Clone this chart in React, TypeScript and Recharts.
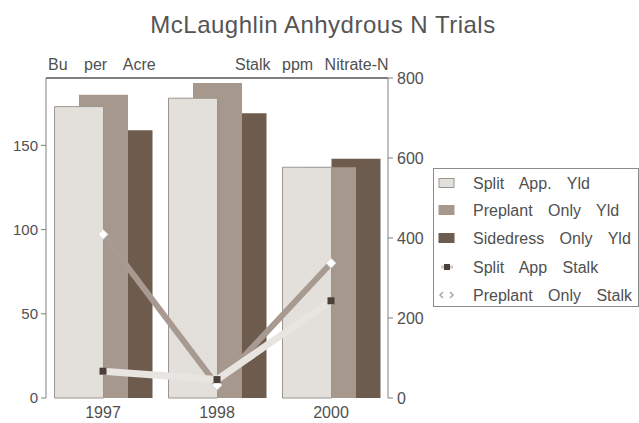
import React from "react";
import { ComposedChart, Bar, Line, XAxis, YAxis, ReferenceLine } from "recharts";

const years = ["1997", "1998", "2000"];
const splitYld = [173, 178, 137];
const preplantYld = [180, 187, 137];
const sidedressYld = [159, 169, 142];
const splitStalk = [67, 46, 243];
const preplantStalk = [409, 32, 337];

const leftTicks = [0, 50, 100, 150];
const rightTicks = [0, 200, 400, 600, 800];

const legendLabels = [
  "Split App. Yld",
  "Preplant Only Yld",
  "Sidedress Only Yld",
  "Split App Stalk",
  "Preplant Only Stalk",
];

const SPLIT = "#e3e0dc";
const PREPLANT = "#a6988d";
const SIDEDRESS = "#6d5c4d";
const SPLIT_LINE = "#e8e4e0";
const PREPLANT_LINE = "#a89a90";
const TEXT = "#505050";
const AXIS = "#808080";
const FONT = '"Liberation Sans", Arial, sans-serif';

const data = years.map((year, i) => ({
  year,
  splitYld: splitYld[i],
  preplantYld: preplantYld[i],
  sidedressYld: sidedressYld[i],
  splitStalk: splitStalk[i],
  preplantStalk: preplantStalk[i],
}));

// small dark square marker
const SquareDot = (props: any) => {
  const { cx, cy, index } = props;
  return <rect key={`sq-${index}`} x={cx - 3.5} y={cy - 3.5} width={7} height={7} fill="#4a4039" />;
};

// white diamond marker
const DiamondDot = (props: any) => {
  const { cx, cy, index } = props;
  return (
    <path
      key={`dm-${index}`}
      d={`M${cx},${cy - 5}L${cx + 5},${cy}L${cx},${cy + 5}L${cx - 5},${cy}Z`}
      fill="#ffffff"
      stroke="#d8d4d0"
      strokeWidth={1}
    />
  );
};

// year labels under the axis, baseline placed just above the bottom edge
const YearTick = (props: any) => {
  const { x, payload } = props;
  return (
    <text x={x} y={418} textAnchor="middle" fontSize={16} fill={TEXT} fontFamily={FONT}>
      {payload.value}
    </text>
  );
};

const LegendBox = () => {
  const rows = [15, 42, 70, 99, 127];
  return (
    <svg width={206} height={140} style={{ position: "absolute", left: 433, top: 168 }}>
      <rect x={0.5} y={0.5} width={205} height={138} fill="#fff" stroke="#8a8a8a" />
      {legendLabels.map((label, i) => {
        const y = rows[i];
        let icon;
        if (i < 3) {
          const fill = [SPLIT, PREPLANT, SIDEDRESS][i];
          icon = (
            <rect x={6} y={y - 4.5} width={15} height={9} fill={fill} stroke={i === 0 ? "#9a9590" : fill} />
          );
        } else if (i === 3) {
          icon = (
            <g>
              <line x1={8} x2={20} y1={y} y2={y} stroke="#d0ccc8" strokeWidth={3} />
              <rect x={11} y={y - 3} width={6} height={6} fill="#4a4039" />
            </g>
          );
        } else {
          icon = (
            <g>
              <path d={`M10,${y - 3}L7,${y}L10,${y + 3}`} fill="none" stroke="#b0a8a0" strokeWidth={1.5} />
              <path d={`M17,${y - 3}L20,${y}L17,${y + 3}`} fill="none" stroke="#b0a8a0" strokeWidth={1.5} />
            </g>
          );
        }
        return (
          <g key={label}>
            {icon}
            <text x={40} y={y + 5.5} fontSize={16} fill={TEXT} fontFamily={FONT} style={{ wordSpacing: 11 }}>
              {label}
            </text>
          </g>
        );
      })}
    </svg>
  );
};

export default function App() {
  return (
    <div
      style={{
        position: "absolute",
        left: 0,
        top: 0,
        width: 639,
        height: 423,
        background: "#fff",
        fontFamily: FONT,
      }}
    >
      <ComposedChart
        width={639}
        height={423}
        data={data}
        margin={{ top: 78, right: 211, bottom: 0, left: 0 }}
      >
        <XAxis
          xAxisId="x"
          dataKey="year"
          height={25}
          axisLine={{ stroke: AXIS }}
          tickLine={false}
          tick={YearTick}
        />
        {/* hidden axes shift each yield series so the bars overlap by half */}
        <XAxis xAxisId="d" dataKey="year" hide padding={{ left: 24.5, right: -24.5 }} />
        <XAxis xAxisId="p" dataKey="year" hide />
        <XAxis xAxisId="s" dataKey="year" hide padding={{ left: -24.5, right: 24.5 }} />
        <YAxis
          yAxisId="left"
          domain={[0, 190]}
          ticks={leftTicks}
          width={46}
          tickSize={5}
          tickMargin={3}
          axisLine={{ stroke: AXIS }}
          tickLine={{ stroke: AXIS }}
          tick={{ fill: TEXT, fontSize: 15 }}
        />
        <YAxis
          yAxisId="right"
          orientation="right"
          domain={[0, 800]}
          ticks={rightTicks}
          width={40}
          tickSize={5}
          tickMargin={4}
          axisLine={{ stroke: AXIS }}
          tickLine={{ stroke: AXIS }}
          tick={{ fill: TEXT, fontSize: 16 }}
        />
        {/* top edge of the plot frame */}
        <ReferenceLine xAxisId="x" yAxisId="right" y={800} stroke={AXIS} strokeWidth={2} ifOverflow="visible" />
        <Bar xAxisId="d" yAxisId="left" dataKey="sidedressYld" barSize={49} fill={SIDEDRESS} isAnimationActive={false} />
        <Bar xAxisId="p" yAxisId="left" dataKey="preplantYld" barSize={49} fill={PREPLANT} isAnimationActive={false} />
        <Bar
          xAxisId="s"
          yAxisId="left"
          dataKey="splitYld"
          barSize={49}
          fill={SPLIT}
          stroke="#9a9590"
          strokeWidth={1}
          isAnimationActive={false}
        />
        <Line
          xAxisId="x"
          yAxisId="right"
          dataKey="preplantStalk"
          stroke={PREPLANT_LINE}
          strokeWidth={6}
          dot={DiamondDot}
          activeDot={false}
          isAnimationActive={false}
        />
        <Line
          xAxisId="x"
          yAxisId="right"
          dataKey="splitStalk"
          stroke={SPLIT_LINE}
          strokeWidth={7}
          dot={SquareDot}
          activeDot={false}
          isAnimationActive={false}
        />
      </ComposedChart>
      <svg width={639} height={90} style={{ position: "absolute", left: 0, top: 0, pointerEvents: "none" }}>
        <text x={323} y={33} textAnchor="middle" fontSize={24} fill="#555" fontFamily={FONT} style={{ letterSpacing: 0.5 }}>
          McLaughlin Anhydrous N Trials
        </text>
        <text x={48} y={70} fontSize={16} fill={TEXT} fontFamily={FONT} style={{ wordSpacing: 12 }}>
          Bu per Acre
        </text>
        <text x={235} y={70} fontSize={16} fill={TEXT} fontFamily={FONT} style={{ wordSpacing: 7 }}>
          Stalk ppm Nitrate-N
        </text>
      </svg>
      <LegendBox />
    </div>
  );
}
